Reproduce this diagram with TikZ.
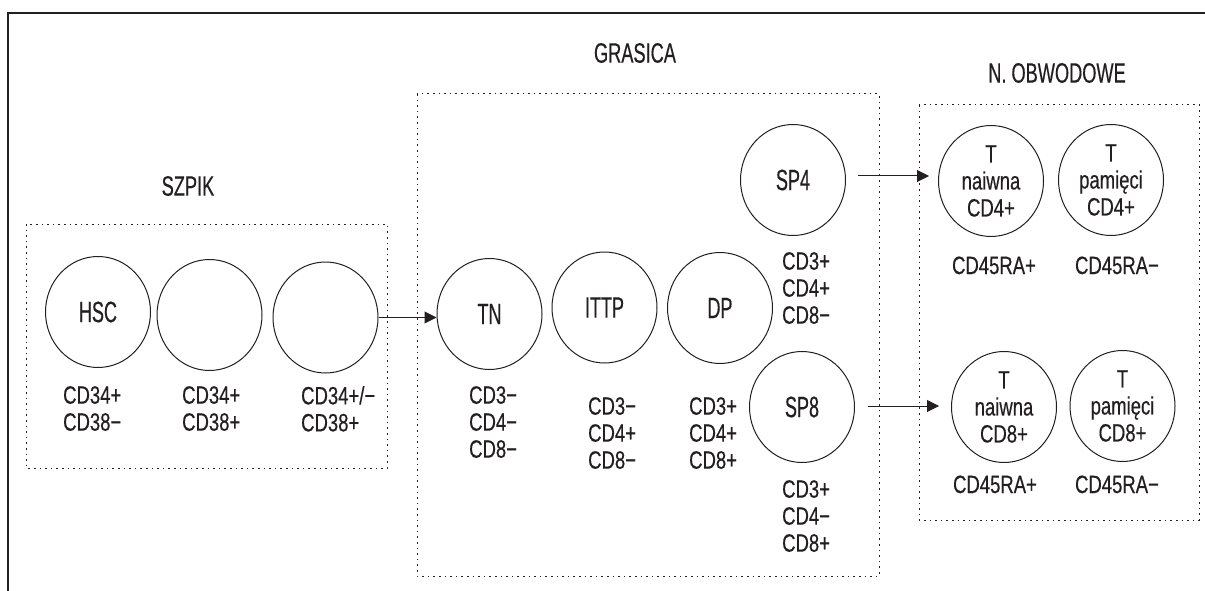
\documentclass[tikz,border=0pt]{standalone}
\usepackage{fontspec}
\setmainfont{Liberation Sans}[FakeStretch=0.74,FakeBold=0.4]
\newfontfamily\bigfont{Liberation Sans}[FakeStretch=0.61,FakeBold=0.4]
\newfontfamily\titlefont{Liberation Sans}[FakeStretch=0.65,FakeBold=0.4]
\usetikzlibrary{shapes.geometric,arrows.meta,calc}
\definecolor{ink}{HTML}{231F20}
\tikzset{
  cell/.style={ellipse,draw=ink,line width=1pt,minimum width=105pt,minimum height=111pt,inner sep=0pt,text=ink,font=\bigfont\fontsize{29.5}{30}\selectfont},
  tcell/.style={cell,align=center,font=\fontsize{25}{27}\selectfont},
  marker/.style={anchor=north west,align=left,inner sep=0pt,text=ink,font=\fontsize{25}{27}\selectfont},
  cmarker/.style={anchor=base,align=center,inner sep=0pt,text=ink,font=\fontsize{25}{27}\selectfont},
  region/.style={draw=ink,line width=1pt,dash pattern=on 1.6pt off 4pt},
  title/.style={inner sep=0pt,text=ink,font=\titlefont\fontsize{28}{30}\selectfont},
  flow/.style={draw=ink,line width=1pt,-{Triangle[length=12pt,width=12pt]}},
  frame/.style={draw=ink,line width=1.2pt}
}
\begin{document}
\begin{tikzpicture}[x=1pt,y=-1pt]
\useasboundingbox (0,0) rectangle (1205,591);
% frame
\coordinate (ftl) at (8,13);
\coordinate (ftr) at (1205,13);
\coordinate (fbl) at (8,591);
\draw[frame] (ftr) -- (ftl) -- (fbl);
% regions
\node[title] (tszpik) at (188,186) {SZPIK};
\node[title] (tgras) at (635,53) {GRASICA};
\node[title] (tobw) at (1057,73) {N. OBWODOWE};
\draw[region] (26,224) rectangle (387,468);
\draw[region] (417,94) rectangle (879,576);
\draw[region] (919,105) rectangle (1199,520);
% cells
\node[cell] (hsc) at (98,312) {HSC};
\node[cell] (c2) at (209.5,315) {};
\node[cell] (c3) at (325.5,317.5) {};
\node[cell] (tn) at (489.5,314) {TN};
\node[cell] (ittp) at (604.5,307.5) {ITTP};
\node[cell] (dp) at (720,308) {DP};
\node[cell] (sp4) at (793,180) {SP4};
\node[cell] (sp8) at (802,407) {SP8};
\node[tcell] (tn4) at (991,181) {T\\naiwna\\CD4+};
\node[tcell] (tm4) at (1111,180) {T\\pamięci\\CD4+};
\node[tcell] (tn8) at (1004,407) {T\\naiwna\\CD8+};
\node[tcell] (tm8) at (1122.5,406) {T\\pamięci\\CD8+};
% markers
\node[marker] (mhsc) at (63,386) {CD34+\\CD38−};
\node[marker] (mc2) at (182,386) {CD34+\\CD38+};
\node[marker] (mc3) at (301,386) {CD34+/−\\CD38+};
\node[marker] (mtn) at (469,386) {CD3−\\CD4−\\CD8−};
\node[marker] (mittp) at (588,397) {CD3−\\CD4+\\CD8−};
\node[marker] (mdp) at (689,397) {CD3+\\CD4+\\CD8+};
\node[marker] (msp4) at (782,252) {CD3+\\CD4+\\CD8−};
\node[marker] (msp8) at (782,480) {CD3+\\CD4−\\CD8+};
\node[cmarker] (mtn4) at (994,274) {CD45RA+};
\node[cmarker] (mtm4) at (1117,274) {CD45RA−};
\node[cmarker] (mtn8) at (995,493) {CD45RA+};
\node[cmarker] (mtm8) at (1117,493) {CD45RA−};
% connectors
\coordinate (a4s) at ([xshift=12pt,yshift=4pt]sp4.east);
\coordinate (a4e) at ($(tn4.west |- a4s)+(-9,0)$);
\coordinate (a8s) at ([xshift=13pt,yshift=1pt]sp8.east);
\coordinate (a8e) at ($(tn8.west |- a8s)+(-12,0)$);
\draw[flow] (c3.east) -- (c3.east -| tn.west);
\draw[flow] (a4s) -- (a4e);
\draw[flow] (a8s) -- (a8e);
\end{tikzpicture}
\end{document}
